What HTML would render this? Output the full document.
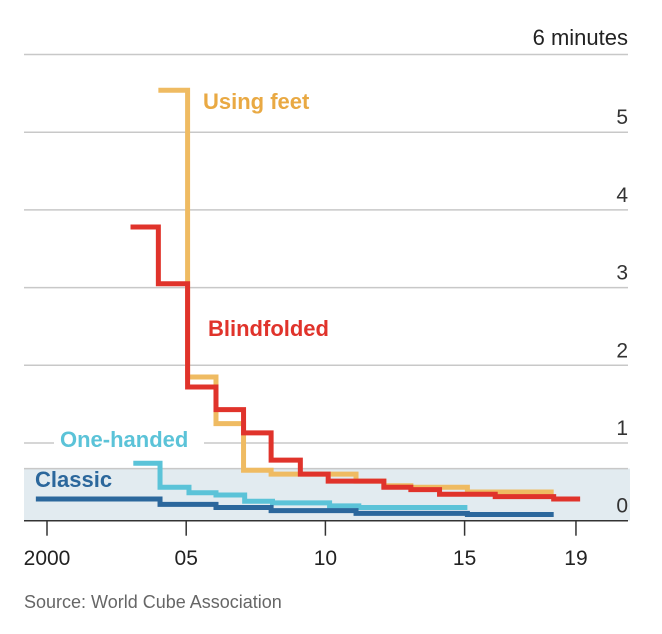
<!DOCTYPE html>
<html><head><meta charset="utf-8"><style>
body{margin:0;background:#fff;}
svg{display:block;font-family:"Liberation Sans",sans-serif;}
</style></head><body>
<svg id="chart" width="662" height="634">
<rect x="24" id="band" y="0" width="606" height="0" fill="#e2ebf0"/>
<g id="grid"></g>
<g id="series"></g>
<g id="labels"></g>
<text x="628" y="45" text-anchor="end" font-size="22" fill="#222">6  minutes</text>
<text x="24" y="608" font-size="18" fill="#666">Source: World Cube Association</text>
</svg>
<script>
const yTicks=[0,1,2,3,4,5];
const xTicks=[2000,2005,2010,2015,2019];
const xTickLabels=["2000","05","10","15","19"];
const classicX=[1999.6,2004.06,2006.07,2008.05,2011.1,2015.1,2018.2];
const classicY=[0.28,0.21,0.17,0.13,0.095,0.08];
const oneX=[2003.1,2004.06,2005.1,2006.07,2007.1,2008.1,2010.15,2011.2,2015.1];
const oneY=[0.74,0.43,0.36,0.33,0.25,0.23,0.19,0.17];
const blindX=[2003.0,2004.0,2005.05,2006.07,2007.06,2008.05,2009.1,2010.1,2012.1,2013.07,2014.1,2016.1,2018.2,2019.15];
const blindY=[3.78,3.05,1.72,1.43,1.13,0.78,0.60,0.51,0.43,0.40,0.34,0.31,0.28];
const feetX=[2004.0,2005.05,2006.07,2007.06,2008.05,2011.1,2012.1,2013.07,2015.1,2018.2];
const feetY=[5.54,1.85,1.25,0.65,0.60,0.51,0.45,0.43,0.37];
const bandTop=0.67;
const NS="http://www.w3.org/2000/svg";
const xs=v=>47+(v-2000)*27.84;
const ys=v=>520.7-v*77.7;
const grid=document.getElementById('grid');
const band=document.getElementById('band');
band.setAttribute('y',ys(bandTop));band.setAttribute('height',ys(0)-ys(bandTop));
function mk(t,a,p){const e=document.createElementNS(NS,t);for(const k in a)e.setAttribute(k,a[k]);p.appendChild(e);return e;}
[1,2,3,4,5,6].forEach(v=>{
const l=mk('line',{x1:24,x2:628,y1:ys(v),y2:ys(v),stroke:'#c8c8c8','stroke-width':1.5},grid);


});
const bl=mk('line',{x1:24,x2:628,y1:ys(bandTop),y2:ys(bandTop),stroke:'#c8c8c8','stroke-width':1.5},grid);


yTicks.forEach(v=>{
const t=mk('text',{x:628,y:ys(v)-8,'text-anchor':'end','font-size':21,fill:'#333'},grid);
t.textContent=v;


});
const ax=mk('line',{x1:24,x2:628,y1:ys(0),y2:ys(0),stroke:'#333','stroke-width':1.5},grid);


xTicks.forEach((v,i)=>{
const tk=mk('line',{x1:xs(v),x2:xs(v),y1:ys(0),y2:ys(0)+15,stroke:'#333','stroke-width':1.5},grid);


const t=mk('text',{x:xs(v),y:565,'text-anchor':'middle','font-size':21,fill:'#222'},grid);
t.textContent=xTickLabels[i];


});
function step(X,Y,color,name){
let d='M'+xs(X[0])+','+ys(Y[0]);
for(let i=1;i<X.length;i++){d+=' H'+xs(X[i]);if(i<Y.length)d+=' V'+ys(Y[i]);}
const p=mk('path',{d:d,fill:'none',stroke:color,'stroke-width':5,'stroke-linejoin':'miter'},document.getElementById('series'));


}
step(feetX,feetY,'#efbb62','using-feet-line');
step(oneX,oneY,'#5bc3d8','one-handed-line');
step(classicX,classicY,'#2b679c','classic-line');
step(blindX,blindY,'#e0332b','blindfolded-line');
const L=document.getElementById('labels');
function lab(txt,x,y,c,name,bg){
if(bg){const r=mk('rect',{x:x-6,y:y-20,width:bg,height:26,fill:'#fff'},L);

}
const t=mk('text',{x:x,y:y,'font-size':22,'font-weight':'bold',fill:c},L);
t.textContent=txt;


}
lab('Using feet',203,109,'#e9a943','label-using-feet');
lab('Blindfolded',208,336,'#e0332b','label-blindfolded');
lab('One-handed',60,447,'#5bc3d8','label-one-handed',150);
lab('Classic',35,487,'#2b679c','label-classic');
</script>
</body></html>
